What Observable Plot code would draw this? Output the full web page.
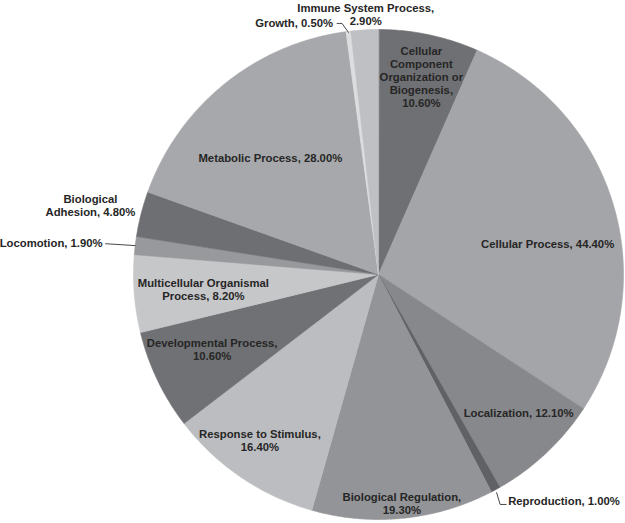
<!DOCTYPE html>
<html>
<head>
<meta charset="utf-8">
<script src="https://cdn.jsdelivr.net/npm/d3@7"></script>
<script src="https://cdn.jsdelivr.net/npm/@observablehq/plot@0.6"></script>
<style>
  html, body { margin: 0; padding: 0; background: #ffffff; }
  #chart svg { display: block; }
</style>
</head>
<body>
<div id="chart"></div>
<script>
// ---- data ----
const categories = [
  "Cellular Component Organization or Biogenesis",
  "Cellular Process",
  "Localization",
  "Reproduction",
  "Biological Regulation",
  "Response to Stimulus",
  "Developmental Process",
  "Multicellular Organismal Process",
  "Locomotion",
  "Biological Adhesion",
  "Metabolic Process",
  "Growth",
  "Immune System Process"
];
const values = [10.6, 44.4, 12.1, 1.0, 19.3, 16.4, 10.6, 8.2, 1.9, 4.8, 28.0, 0.5, 2.9];
const labelTexts = [
  "Cellular\nComponent\nOrganization or\nBiogenesis,\n10.60%",
  "Cellular Process, 44.40%",
  "Localization, 12.10%",
  "Reproduction, 1.00%",
  "Biological Regulation,\n19.30%",
  "Response to Stimulus,\n16.40%",
  "Developmental Process,\n10.60%",
  "Multicellular Organismal\nProcess, 8.20%",
  "Locomotion, 1.90%",
  "Biological\nAdhesion, 4.80%",
  "Metabolic Process, 28.00%",
  "Growth, 0.50%",
  "Immune System Process,\n2.90%"
];

// ---- style / layout (kept apart from the data) ----
const palette = ["#6f7073", "#a4a5a8", "#87888b", "#606164", "#939497", "#bcbdc0",
                 "#707174", "#c6c7c9", "#98999c", "#6e6f72", "#a7a8ab", "#dcdddf", "#bfc0c3"];
// label placement: radius factor along slice mid-angle, pixel nudges, anchor, leader kind
const labelLayout = [
  {k: 0.83,  dx: 1,   dy: 1,  anchor: "middle"},
  {k: 0.72,  dx: 0,   dy: 19, anchor: "middle"},
  {k: 0.805, dx: 5,   dy: -5, anchor: "middle"},
  {k: 1.064, dx: 5,   dy: -3, anchor: "start", leader: "elbow-down"},
  {k: 0.94,  dx: 0,   dy: 0,  anchor: "middle"},
  {k: 0.833, dx: -4,  dy: -3, anchor: "middle"},
  {k: 0.744, dx: -2,  dy: -4, anchor: "middle"},
  {k: 0.717, dx: 0,   dy: 1,  anchor: "middle"},
  {k: 1.134, dx: 0,   dy: 1,  anchor: "end", leader: "straight"},
  {k: 1.209, dx: -1,  dy: 4,  anchor: "middle"},
  {k: 0.65,  dx: -8,  dy: 7,  anchor: "middle"},
  {k: 1.045, dx: -14, dy: 2,  anchor: "end", leader: "elbow-up"},
  {k: 1.065, dx: 2,   dy: 0,  anchor: "middle"}
];
const W = 625, H = 523, CX = 378, CY = 274, R = 245;
const FONT = "'Liberation Sans', Arial, Helvetica, sans-serif";

// ---- geometry via d3.pie ----
const table = categories.map((name, i) => ({name, value: values[i], label: labelTexts[i], i}));
const arcs = d3.pie().sort(null).value(d => d.value)(table);

const slicePts = [];
for (const a of arcs) {
  const name = a.data.name;
  slicePts.push({name, x: 0, y: 0});
  const n = Math.max(2, Math.ceil((a.endAngle - a.startAngle) / (Math.PI / 360)));
  for (let j = 0; j <= n; j++) {
    const t = a.startAngle + (a.endAngle - a.startAngle) * j / n;
    slicePts.push({name, x: Math.sin(t), y: Math.cos(t)});
  }
}

const labelRows = arcs.map((a, i) => {
  const L = labelLayout[i];
  const mid = (a.startAngle + a.endAngle) / 2;
  return {
    name: a.data.name, text: a.data.label, anchor: L.anchor, leader: L.leader, mid,
    x: L.k * Math.sin(mid) + L.dx / R,
    y: L.k * Math.cos(mid) - L.dy / R
  };
});

const leaderPts = [];
for (const r of labelRows) {
  if (!r.leader) continue;
  const ex = Math.sin(r.mid), ey = Math.cos(r.mid);
  const px = 1 / R;
  if (r.leader === "straight") {
    leaderPts.push({name: r.name, x: ex, y: ey});
    leaderPts.push({name: r.name, x: r.x + 3 * px, y: r.y - 1 * px});
  } else if (r.leader === "elbow-down") {
    leaderPts.push({name: r.name, x: ex + 1 * px, y: ey - 3 * px});
    leaderPts.push({name: r.name, x: r.x - 8 * px, y: r.y - 4 * px});
    leaderPts.push({name: r.name, x: r.x - 2 * px, y: r.y - 4 * px});
  } else if (r.leader === "elbow-up") {
    leaderPts.push({name: r.name, x: ex, y: ey - 1 * px});
    leaderPts.push({name: r.name, x: r.x + 9 * px, y: r.y - 1 * px});
    leaderPts.push({name: r.name, x: r.x + 4 * px, y: r.y - 1 * px});
  }
}

const textOpts = {
  x: "x", y: "y", text: "text", lineAnchor: "middle", lineHeight: 1.15,
  fontSize: 11.3, fontWeight: "bold", fontFamily: FONT, fill: "#262626"
};

const chart = Plot.plot({
  width: W, height: H, margin: 0,
  x: {domain: [-CX / R, (W - CX) / R], axis: null},
  y: {domain: [-(H - CY) / R, CY / R], axis: null},
  color: {domain: categories, range: palette},
  style: {background: "#ffffff", fontFamily: FONT},
  marks: [
    Plot.line(slicePts, {x: "x", y: "y", z: "name", fill: "name", stroke: "name",
                         strokeWidth: 0.6, curve: "linear-closed"}),
    Plot.line(leaderPts, {x: "x", y: "y", z: "name", stroke: "#4a4a4c", strokeWidth: 1}),
    Plot.text(labelRows.filter(d => d.anchor === "middle"), {...textOpts, textAnchor: "middle"}),
    Plot.text(labelRows.filter(d => d.anchor === "start"), {...textOpts, textAnchor: "start"}),
    Plot.text(labelRows.filter(d => d.anchor === "end"), {...textOpts, textAnchor: "end"})
  ]
});
document.getElementById("chart").appendChild(chart);
</script>
</body>
</html>
